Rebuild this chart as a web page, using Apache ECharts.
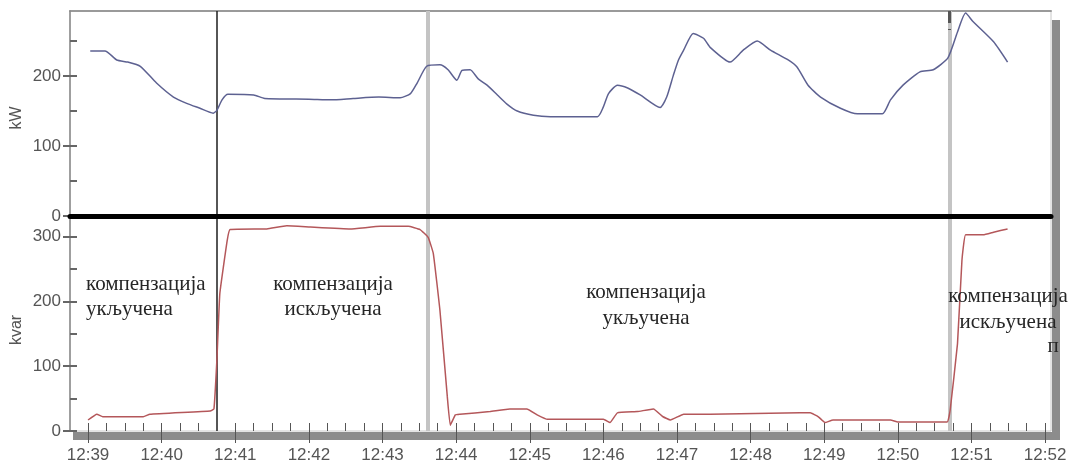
<!DOCTYPE html>
<html><head><meta charset="utf-8">
<script src="https://cdn.jsdelivr.net/npm/echarts@6/dist/echarts.min.js"></script>
<style>html,body{margin:0;padding:0;background:#fff}#c{width:1072px;height:464px}</style>
</head><body><div id="c"></div>
<script>
// minutes after 12:39
const kwTime = [0.03,0.23,0.39,0.54,0.71,0.93,1.16,1.34,1.52,1.70,1.75,1.82,1.90,2.25,2.40,3.00,3.30,3.60,3.95,4.24,4.38,4.47,4.60,4.78,4.89,5.01,5.08,5.19,5.30,5.42,5.56,5.69,5.83,6.05,6.28,6.92,7.00,7.07,7.19,7.33,7.50,7.77,7.86,7.95,8.02,8.09,8.22,8.36,8.45,8.72,8.90,9.09,9.27,9.51,9.63,9.78,9.95,10.22,10.45,10.79,10.90,11.07,11.30,11.48,11.68,11.81,11.92,12.02,12.30,12.49];
const kwValue = [236,236,223,220,214,190,170,161,154,147,151,166,174,173,168,167,166,168,170,169,175,190,214,216,209,194,208,209,196,187,173,160,150,144,142,142,156,175,187,183,173,155,170,201,223,237,261,254,241,220,237,250,237,223,213,187,170,154,146,146,166,187,206,209,226,263,290,278,249,220];
const kvarTime = [0.00,0.12,0.20,0.75,0.84,1.66,1.71,1.75,1.79,1.89,1.93,2.43,2.70,3.02,3.56,3.97,4.35,4.51,4.62,4.69,4.78,4.88,4.92,4.99,5.05,5.46,5.73,5.96,6.10,6.24,7.00,7.09,7.19,7.46,7.68,7.81,7.91,8.09,8.45,9.67,9.81,9.92,10.01,10.12,10.90,11.00,11.67,11.71,11.81,11.87,11.92,12.16,12.30,12.49];
const kvarValue = [17,26,22,22,26,31,34,109,212,294,311,312,317,315,312,316,316,311,299,274,186,53,9,25,26,30,34,34,25,18,18,13,28,30,34,22,17,26,26,28,28,22,13,17,17,14,14,32,135,263,303,303,307,312];
const eventTimes = [1.75, 4.62, 11.70];
const tickMinutes = [0,1,2,3,4,5,6,7,8,9,10,11,12,13];
const tickLabels = ['12:39','12:40','12:41','12:42','12:43','12:44','12:45','12:46','12:47','12:48','12:49','12:50','12:51','12:52'];
const kwTicks = [0,100,200];
const kwMinor = [0,50,100,150,200,250];
const kvarTicks = [0,100,200,300];
const kvarMinor = [0,50,100,150,200,250,300];
const quarterTicks = [];
tickMinutes.forEach(m => { [0,0.25,0.5,0.75].forEach(q => { if (m + q <= 13) quarterTicks.push(m + q); }); });

const kwData = kwTime.map((t,i)=>[t,kwValue[i]]);
const kvarData = kvarTime.map((t,i)=>[t,kvarValue[i]]);
const eventStyles = [
  {color:'#1e1e1e', width:1.5, type:'solid'},
  {color:'#c4c4c4', width:4, type:'solid'},
  {color:'#c4c4c4', width:4, type:'solid'}
];
const XMIN = -0.245, XMAX = 13.08;
const labelFont = {fontFamily:'Liberation Sans', fontSize:17, color:'#555'};
const annFont = {fontFamily:'Liberation Serif', fontSize:21, fill:'#262626'};

const chart = echarts.init(document.getElementById('c'), null, {renderer:'canvas'});
chart.setOption({
  animation:false,
  backgroundColor:'#fff',
  grid:[
    {left:70, top:11, width:981, height:205, show:true, borderColor:'#c8c8c8', borderWidth:1},
    {left:70, top:216, width:981, height:215, show:true, borderColor:'#c8c8c8', borderWidth:1}
  ],
  xAxis:[
    {gridIndex:0, type:'value', min:XMIN, max:XMAX, position:'bottom', z:6,
     axisLine:{show:true, onZero:false, lineStyle:{color:'#000', width:5}},
     axisTick:{show:false}, axisLabel:{show:false}, splitLine:{show:false}},
    {gridIndex:0, type:'value', min:XMIN, max:XMAX, position:'top',
     axisLine:{show:true, onZero:false, lineStyle:{color:'#9a9a9a', width:2}},
     axisTick:{show:false}, axisLabel:{show:false}, splitLine:{show:false}},
    {gridIndex:1, type:'value', min:XMIN, max:XMAX, position:'bottom', offset:0, z:6,
     axisLine:{show:false, onZero:false}, axisLabel:{show:false}, splitLine:{show:false},
     axisTick:{show:true, inside:true, length:8, customValues:quarterTicks, lineStyle:{color:'#555', width:1}}},
    {gridIndex:1, type:'value', min:XMIN, max:XMAX, position:'bottom', offset:0, z:6,
     axisLine:{show:false, onZero:false}, splitLine:{show:false},
     axisTick:{show:true, inside:false, length:12, customValues:tickMinutes, lineStyle:{color:'#555', width:1}},
     axisLabel:Object.assign({show:true, margin:16, customValues:tickMinutes,
       formatter:v=>{const i=tickMinutes.indexOf(Math.round(v)); return i>=0?tickLabels[i]:'';}}, labelFont)}
  ],
  yAxis:[
    {gridIndex:0, type:'value', min:0, max:293, position:'left', offset:0, z:5,
     axisLine:{show:true, onZero:false, lineStyle:{color:'#888', width:1.5}},
     axisTick:{show:true, inside:false, length:7, customValues:kwTicks, lineStyle:{color:'#666', width:2}},
     axisLabel:Object.assign({show:true, margin:9, customValues:kwTicks}, labelFont),
     splitLine:{show:false}},
    {gridIndex:0, type:'value', min:0, max:293, position:'left', offset:0, z:5,
     axisLine:{show:false, onZero:false}, axisLabel:{show:false}, splitLine:{show:false},
     axisTick:{show:true, inside:true, length:7, customValues:kwMinor, lineStyle:{color:'#666', width:2}}},
    {gridIndex:1, type:'value', min:0, max:332, position:'left', offset:0, z:5,
     axisLine:{show:true, onZero:false, lineStyle:{color:'#888', width:1.5}},
     axisTick:{show:true, inside:false, length:7, customValues:kvarTicks, lineStyle:{color:'#666', width:2}},
     axisLabel:Object.assign({show:true, margin:9, customValues:kvarTicks}, labelFont),
     splitLine:{show:false}},
    {gridIndex:1, type:'value', min:0, max:332, position:'left', offset:0, z:5,
     axisLine:{show:false, onZero:false}, axisLabel:{show:false}, splitLine:{show:false},
     axisTick:{show:true, inside:true, length:7, customValues:kvarMinor, lineStyle:{color:'#666', width:2}}}
  ],
  series:[
    {name:'kW', type:'line', xAxisIndex:0, yAxisIndex:0, data:kwData, showSymbol:false, smooth:0.2,
     lineStyle:{color:'#5d6191', width:1.5}, z:3,
     markLine:{silent:true, symbol:['none','none'], label:{show:false}, z:2,
       data: eventTimes.map((t,i)=>({xAxis:t, lineStyle:eventStyles[i]})).concat([
         [{coord:[eventTimes[2],293], lineStyle:{color:'#555', width:3}},{coord:[eventTimes[2],266]}]
       ])}},
    {name:'kvar', type:'line', xAxisIndex:2, yAxisIndex:2, data:kvarData, showSymbol:false, smooth:0.1,
     lineStyle:{color:'#b4575a', width:1.5}, z:3,
     markLine:{silent:true, symbol:['none','none'], label:{show:false}, z:2,
       data: eventTimes.map((t,i)=>({xAxis:t, lineStyle:eventStyles[i]}))}}
  ],
  graphic:[
    {type:'rect', z:1, shape:{x:1052, y:20, width:8, height:420}, style:{fill:'#8c8c8c'}},
    {type:'rect', z:1, shape:{x:73, y:432, width:987, height:8}, style:{fill:'#8c8c8c'}},
    {type:'text', x:17, y:118, rotation:Math.PI/2, style:{text:'kW', fontFamily:'Liberation Sans', fontSize:16, fill:'#555', align:'center', verticalAlign:'middle'}},
    {type:'text', x:17, y:330, rotation:Math.PI/2, style:{text:'kvar', fontFamily:'Liberation Sans', fontSize:16, fill:'#555', align:'center', verticalAlign:'middle'}},
    {type:'text', z:10, x:86, y:297, style:Object.assign({text:'компензација\nукључена', lineHeight:25, align:'left', verticalAlign:'middle'}, annFont)},
    {type:'text', z:10, x:333, y:297, style:Object.assign({text:'компензација\nискључена', lineHeight:25, align:'center', verticalAlign:'middle'}, annFont)},
    {type:'text', z:10, x:646, y:305, style:Object.assign({text:'компензација\nукључена', lineHeight:26, align:'center', verticalAlign:'middle'}, annFont)},
    {type:'text', z:10, x:1008, y:309, style:Object.assign({text:'компензација\nискључена', lineHeight:26, align:'center', verticalAlign:'middle'}, annFont)},
    {type:'text', z:10, x:1053, y:346, style:Object.assign({text:'п', align:'center', verticalAlign:'middle'}, annFont)}
  ]
});
</script></body></html>
